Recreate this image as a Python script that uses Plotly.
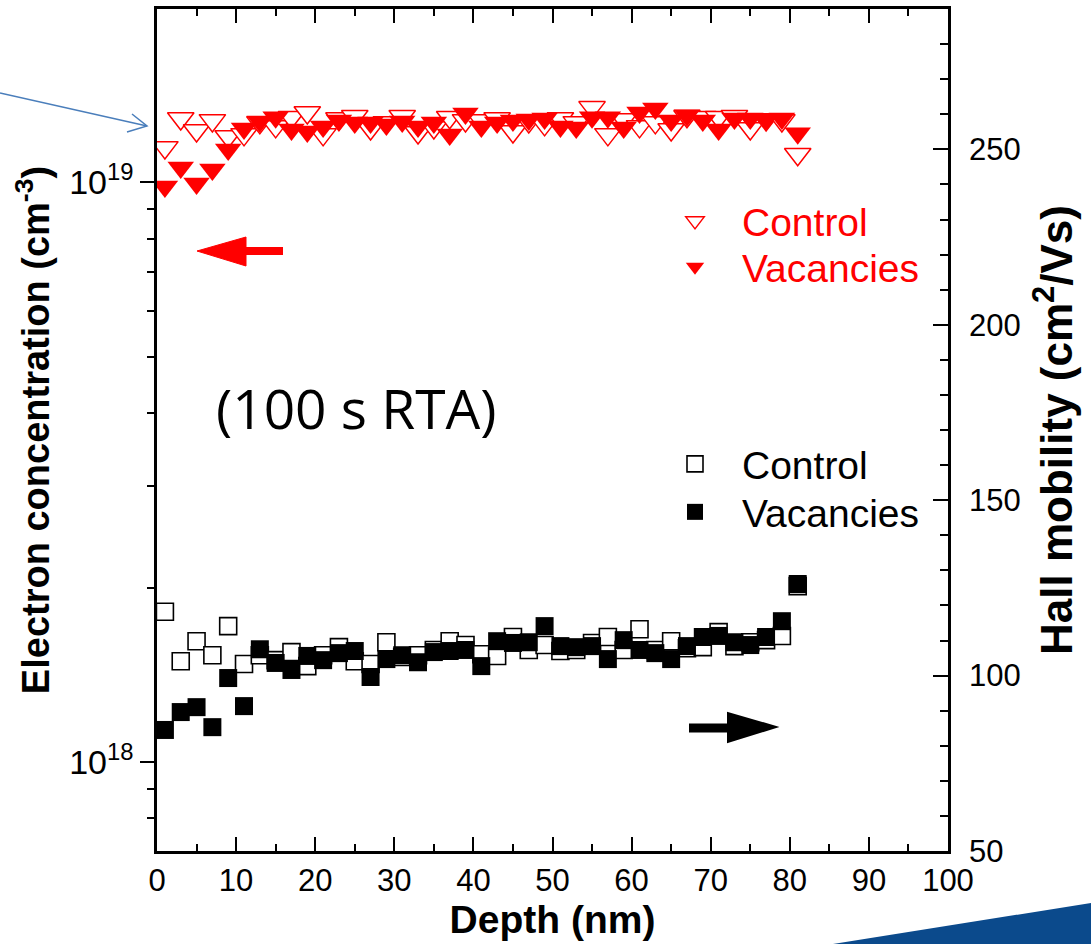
import plotly.graph_objects as go

# ---------------- data ----------------
depth_nm = [1, 3, 5, 7, 9, 11, 13, 15, 17, 19, 21, 23, 25, 27, 29, 31, 33, 35, 37, 39, 41,
            43, 45, 47, 49, 51, 53, 55, 57, 59, 61, 63, 65, 67, 69, 71, 73, 75, 77, 79, 81]

conc_control = [1.149e19, 1.289e19, 1.229e19, 1.279e19, 1.200e19, 1.210e19, 1.269e19, 1.249e19,
                1.295e19, 1.320e19, 1.210e19, 1.289e19, 1.300e19, 1.239e19, 1.269e19, 1.300e19,
                1.219e19, 1.244e19, 1.295e19, 1.279e19, 1.279e19, 1.289e19, 1.224e19, 1.274e19,
                1.259e19, 1.289e19, 1.269e19, 1.347e19, 1.210e19, 1.284e19, 1.249e19, 1.269e19,
                1.234e19, 1.300e19, 1.295e19, 1.295e19, 1.300e19, 1.239e19, 1.284e19, 1.279e19,
                1.118e19]

conc_vacancies = [0.984e19, 1.061e19, 0.996e19, 1.053e19, 1.140e19, 1.239e19, 1.274e19, 1.295e19,
                  1.234e19, 1.224e19, 1.249e19, 1.279e19, 1.269e19, 1.269e19, 1.259e19, 1.274e19,
                  1.249e19, 1.269e19, 1.210e19, 1.315e19, 1.249e19, 1.269e19, 1.279e19, 1.284e19,
                  1.289e19, 1.249e19, 1.244e19, 1.295e19, 1.295e19, 1.244e19, 1.320e19, 1.341e19,
                  1.279e19, 1.305e19, 1.279e19, 1.234e19, 1.289e19, 1.289e19, 1.284e19, 1.289e19,
                  1.215e19]

mob_control = [118.2, 104.1, 109.8, 105.8, 114.1, 103.3, 105.8, 104.4, 106.7, 102.7, 105.8,
               108.1, 104.1, 103.3, 109.5, 105.3, 105.8, 107.3, 109.8, 108.7, 106.1, 105.6,
               111.0, 107.3, 108.7, 107.0, 107.3, 109.3, 111.0, 107.3, 113.2, 107.3, 109.8,
               107.8, 108.1, 112.4, 108.4, 109.5, 110.1, 111.3, 125.5]

mob_vacancies = [84.5, 89.6, 91.0, 85.3, 99.3, 91.3, 107.5, 103.6, 101.6, 105.6, 104.4,
                 106.4, 107.0, 99.6, 104.7, 105.8, 103.8, 106.7, 107.0, 107.3, 102.7, 109.8,
                 109.3, 109.5, 114.1, 108.4, 108.1, 108.4, 104.7, 110.1, 107.3, 106.4, 104.7,
                 108.4, 111.0, 111.3, 109.5, 108.7, 111.0, 115.5, 126.1]

x_ticks = [0, 10, 20, 30, 40, 50, 60, 70, 80, 90, 100]
conc_ticks = [1e18, 1e19]
conc_ticktext = ["10<sup>18</sup>", "10<sup>19</sup>"]
conc_minor = [8e17, 9e17, 2e18, 3e18, 4e18, 5e18, 6e18, 7e18, 8e18, 9e18, 2e19]
mob_ticks = [50, 100, 150, 200, 250]

# ---------------- layout geometry ----------------
W, H = 1091, 944
ML, MR, MT, MB = 157, 143, 9, 93
PW, PH = W - ML - MR, H - MT - MB


def px(x):
    return (x - ML) / PW


def py(y):
    return (H - MB - y) / PH


RED = "#FF0000"
FONT = "Liberation Sans, Arial, sans-serif"
LEG_FS = 39

fig = go.Figure()

fig.add_trace(go.Scatter(
    x=depth_nm, y=conc_control, mode="markers", name="Control", legend="legend",
    marker=dict(symbol="triangle-down", size=23, color="white",
                line=dict(color=RED, width=1.5)),
    yaxis="y"))
fig.add_trace(go.Scatter(
    x=depth_nm, y=conc_vacancies, mode="markers", name="Vacancies", legend="legend2",
    marker=dict(symbol="triangle-down", size=23, color=RED, line=dict(width=0)),
    yaxis="y"))
fig.add_trace(go.Scatter(
    x=depth_nm, y=mob_control, mode="markers", name="Control", legend="legend3",
    marker=dict(symbol="square", size=17, color="white",
                line=dict(color="black", width=1.6)),
    yaxis="y2"))
fig.add_trace(go.Scatter(
    x=depth_nm, y=mob_vacancies, mode="markers", name="Vacancies", legend="legend4",
    marker=dict(symbol="square", size=18, color="black", line=dict(width=0)),
    yaxis="y2"))

shapes = []
# red arrow (pointing left, towards concentration axis)
shapes.append(dict(type="line", xref="paper", yref="paper",
                   x0=px(243), y0=py(251), x1=px(283), y1=py(251),
                   line=dict(color=RED, width=8)))
shapes.append(dict(type="path", xref="paper", yref="paper",
                   path=f"M {px(197)} {py(251)} L {px(246)} {py(237)} L {px(246)} {py(266)} Z",
                   fillcolor=RED, line=dict(color=RED, width=1)))
# black arrow (pointing right, towards mobility axis)
shapes.append(dict(type="line", xref="paper", yref="paper",
                   x0=px(689), y0=py(728), x1=px(731), y1=py(728),
                   line=dict(color="black", width=9)))
shapes.append(dict(type="path", xref="paper", yref="paper",
                   path=f"M {px(776)} {py(727)} L {px(728)} {py(713)} L {px(728)} {py(742)} Z",
                   fillcolor="black", line=dict(color="black", width=2)))
# thin blue pointer at the top left
BLUE = "#4A7EBB"
shapes.append(dict(type="line", xref="paper", yref="paper",
                   x0=px(0), y0=py(93), x1=px(147), y1=py(126),
                   line=dict(color=BLUE, width=1.5)))
shapes.append(dict(type="path", xref="paper", yref="paper",
                   path=f"M {px(132)} {py(114)} L {px(147)} {py(126)} L {px(127)} {py(132)}",
                   line=dict(color=BLUE, width=1.5)))
# dark blue slide decoration at the bottom right
shapes.append(dict(type="path", xref="paper", yref="paper",
                   path=f"M {px(833)} {py(944)} L {px(1091)} {py(903)} L {px(1091)} {py(944)} Z",
                   fillcolor="#0B4A8C", line=dict(width=0)))


def leg(top_px, color):
    return dict(x=px(648), y=py(top_px), xanchor="left", yanchor="top",
                bgcolor="rgba(0,0,0,0)", borderwidth=0, itemwidth=84,
                font=dict(size=LEG_FS, family=FONT, color=color))


fig.update_layout(
    width=W, height=H,
    margin=dict(l=ML, r=MR, t=MT, b=MB, autoexpand=False),
    paper_bgcolor="white", plot_bgcolor="white",
    font=dict(family=FONT, color="black"),
    showlegend=True,
    xaxis=dict(
        range=[0, 100], tickvals=x_ticks, ticks="inside", ticklen=14, tickwidth=2,
        tickcolor="black", showline=True, linewidth=2.5, linecolor="black",
        mirror="ticks", showgrid=False, zeroline=False,
        tickfont=dict(size=31, family=FONT),
        minor=dict(dtick=5, tick0=0, ticks="inside", ticklen=7, tickwidth=2, tickcolor="black"),
        title=dict(text="Depth (nm)", font=dict(size=39, family=FONT, weight="bold"), standoff=6),
    ),
    yaxis=dict(
        type="log", range=[17.847, 19.299],
        tickvals=conc_ticks, ticktext=conc_ticktext,
        ticks="outside", ticklen=14, tickwidth=2, tickcolor="black",
        showline=True, linewidth=2.5, linecolor="black", showgrid=False, zeroline=False,
        tickfont=dict(size=34, family=FONT),
        minor=dict(tickmode="array", tickvals=conc_minor, ticks="outside", ticklen=7,
                   tickwidth=2, tickcolor="black"),
        title=dict(text="Electron concentration (cm<sup>-3</sup>)",
                   font=dict(size=38, family=FONT, weight="bold"), standoff=8),
    ),
    yaxis2=dict(
        overlaying="y", side="right", range=[50, 290],
        tickvals=mob_ticks, ticks="inside", ticklen=15, tickwidth=2, tickcolor="black",
        showline=True, linewidth=2.5, linecolor="black", showgrid=False, zeroline=False,
        tickfont=dict(size=31, family=FONT), ticklabelstandoff=12,
        minor=dict(dtick=10, tick0=50, ticks="inside", ticklen=8, tickwidth=2, tickcolor="black"),
        title=dict(text="Hall mobility (cm<sup>2</sup>/Vs)",
                   font=dict(size=44, family=FONT, weight="bold"), standoff=22),
    ),
    legend=leg(189, RED),
    legend2=leg(235, RED),
    legend3=leg(432, "black"),
    legend4=leg(480, "black"),
    shapes=shapes,
    annotations=[dict(text="(100 s RTA)", xref="paper", yref="paper",
                      x=px(356), y=py(407), xanchor="center", yanchor="middle",
                      showarrow=False, font=dict(family="Open Sans, sans-serif", size=55,
                                                 color="black"))],
)

fig.write_html("out.html")
